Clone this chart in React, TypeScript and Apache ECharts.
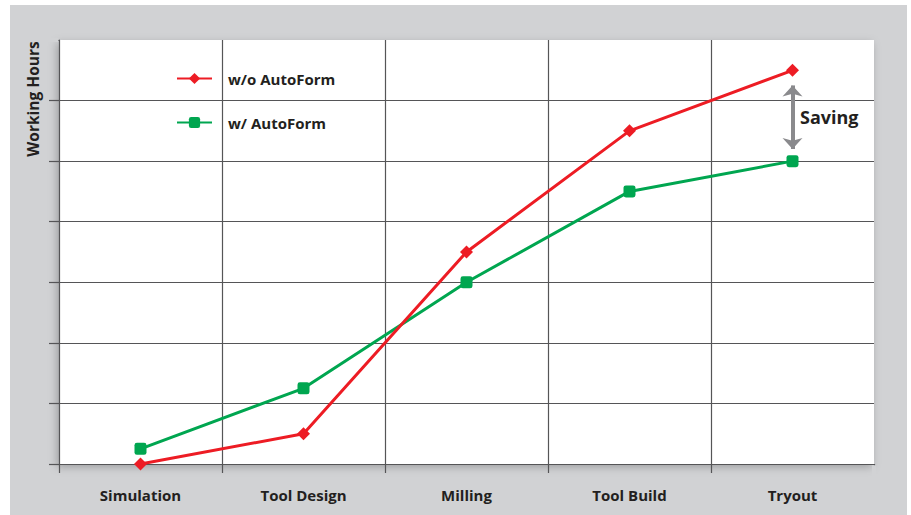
import React, { useEffect, useRef } from "react";
import * as echarts from "echarts";

const categories = ["Simulation", "Tool Design", "Milling", "Tool Build", "Tryout"];
const withoutAutoForm = [0, 0.5, 3.5, 5.5, 6.5];
const withAutoForm = [0.25, 1.25, 3, 4.5, 5];
const savingFrom = 6.25;
const savingTo = 5.2;

const FONT = "'Open Sans', 'Noto Sans', sans-serif";
const TEXT = "#231f20";
const GRIDC = "#555557";
const BG = "#d1d2d4";

export default function App() {
  const ref = useRef<HTMLDivElement>(null);
  useEffect(() => {
    document.body.style.margin = "0";
    const chart = echarts.init(ref.current!, undefined, { renderer: "svg" });
    chart.setOption({
      animation: false,
      backgroundColor: "#ffffff",
      graphic: [
        {
          type: "rect",
          z: -10,
          silent: true,
          shape: { x: 10, y: 5, width: 897, height: 515 },
          style: { fill: BG },
        },
        {
          type: "rect",
          z: 100,
          silent: true,
          shape: { x: 46, y: 38, width: 12.4, height: 4 },
          style: { fill: BG },
        },
        {
          type: "rect",
          z: 100,
          silent: true,
          shape: { x: 872, y: 465.2, width: 4, height: 12 },
          style: { fill: BG },
        },
        {
          type: "text",
          x: 33,
          y: 99,
          rotation: Math.PI / 2,
          style: {
            text: "Working Hours",
            font: `bold 15.5px ${FONT}`,
            fill: TEXT,
            align: "center",
            verticalAlign: "middle",
          },
        },
        {
          type: "text",
          x: 800,
          y: 117,
          style: {
            text: "Saving",
            font: `bold 18px ${FONT}`,
            fill: TEXT,
            align: "left",
            verticalAlign: "middle",
          },
        },
      ],
      grid: {
        left: 59,
        right: 37,
        top: 40,
        bottom: 51,
        show: true,
        backgroundColor: "#ffffff",
        borderWidth: 0,
        shadowColor: "rgba(0,0,0,0.25)",
        shadowBlur: 8,
        shadowOffsetX: -2,
        shadowOffsetY: 3,
      },
      legend: {
        orient: "vertical",
        left: 171,
        top: 66,
        itemWidth: 35,
        itemHeight: 14,
        itemGap: 29,
        textStyle: {
          fontFamily: FONT,
          fontWeight: "bold",
          fontSize: 15,
          color: TEXT,
          padding: [0, 0, 0, 11],
        },
        data: ["w/o AutoForm", "w/ AutoForm"],
      },
      xAxis: {
        type: "category",
        data: categories,
        boundaryGap: true,
        axisLine: { show: true, lineStyle: { color: GRIDC, width: 1.2 } },
        axisTick: { show: true, length: 9, lineStyle: { color: GRIDC, width: 1.2 } },
        axisLabel: {
          margin: 23,
          fontFamily: FONT,
          fontWeight: "bold",
          fontSize: 15,
          color: TEXT,
        },
        splitLine: { show: true, showMinLine: false, showMaxLine: false, lineStyle: { color: GRIDC, width: 1.2 } },
      },
      yAxis: {
        type: "value",
        min: 0,
        max: 7,
        interval: 1,
        axisLine: { show: true, lineStyle: { color: GRIDC, width: 1.2 } },
        axisTick: { show: true, length: 10, lineStyle: { color: GRIDC, width: 1.2 } },
        axisLabel: { show: false },
        splitLine: { show: true, showMinLine: false, showMaxLine: false, lineStyle: { color: GRIDC, width: 1.2 } },
      },
      series: [
        {
          name: "w/o AutoForm",
          type: "line",
          data: withoutAutoForm,
          symbol: "diamond",
          symbolSize: 13,
          color: "#ed1c24",
          lineStyle: { width: 3, color: "#ed1c24" },
          itemStyle: { color: "#ed1c24" },
          z: 3,
          markLine: {
            silent: true,
            symbol: ["arrow", "arrow"],
            symbolSize: [15, 11],
            label: { show: false },
            lineStyle: { color: "#8a8a8d", width: 4, type: "solid" },
            data: [
              [
                { coord: ["Tryout", savingFrom] },
                { coord: ["Tryout", savingTo] },
              ],
            ],
          },
        },
        {
          name: "w/ AutoForm",
          type: "line",
          data: withAutoForm,
          symbol: "path://M2,0 H8 A2,2 0 0 1 10,2 V8 A2,2 0 0 1 8,10 H2 A2,2 0 0 1 0,8 V2 A2,2 0 0 1 2,0 Z",
          symbolSize: 12,
          color: "#00a650",
          lineStyle: { width: 3, color: "#00a650" },
          itemStyle: { color: "#00a650" },
          z: 2,
        },
      ],
    });
    return () => chart.dispose();
  }, []);
  return <div ref={ref} style={{ width: 911, height: 515 }} />;
}
